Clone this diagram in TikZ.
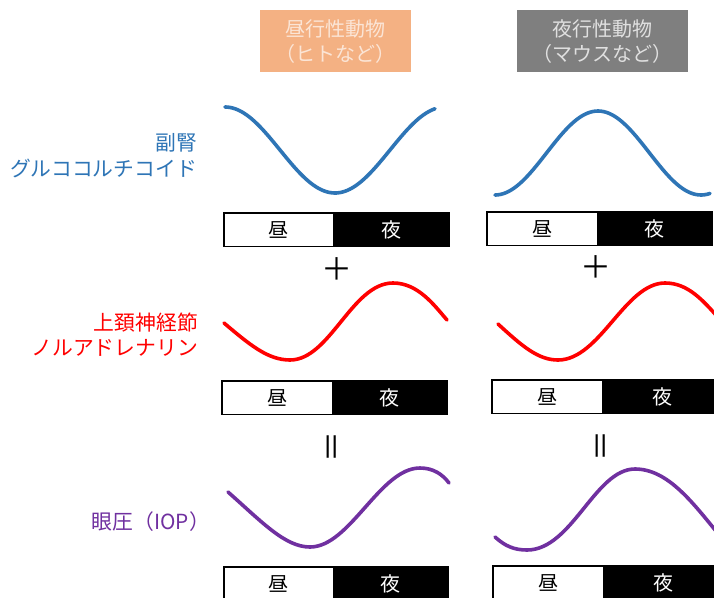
\documentclass[tikz,border=0pt]{standalone}
\usepackage{fontspec}
\newfontfamily\jp{Noto Sans CJK JP}
\definecolor{hdrday}{HTML}{F4B183}
\definecolor{hdrnight}{HTML}{7F7F7F}
\definecolor{hdrdaytxt}{HTML}{FBE5D6}
\definecolor{hdrnighttxt}{HTML}{E0E0E0}
\definecolor{cblue}{HTML}{2E75B6}
\definecolor{cred}{HTML}{FF0000}
\definecolor{cpurple}{HTML}{7030A0}
\tikzset{
  jptext/.style={font=\jp\fontsize{20}{24}\selectfont, inner sep=0pt},
  hdrbox/.style={jptext, minimum width=151pt, minimum height=62pt, align=center, text depth=0pt},
  daycell/.style={jptext, fill=white, text=black, minimum height=33pt, anchor=north west},
  nightcell/.style={jptext, fill=black, text=white, minimum height=33pt, anchor=north west},
  barline/.style={draw=black, line width=1.6pt},
  lbl/.style={font=\jp\fontsize{20.8}{24}\selectfont, inner sep=0pt, anchor=east},
  wave/.style={line width=3.6pt, line cap=round},
  opsym/.style={font=\jp\fontsize{31}{31}\selectfont, inner sep=0pt},
}
\begin{document}
\begin{tikzpicture}[x=1pt, y=-1pt]
\useasboundingbox (0,0) rectangle (714,597);
\clip (0,0) rectangle (714,597);
\fill[white] (0,0) rectangle (714,597);

% headers
\node[hdrbox, fill=hdrday, text=hdrdaytxt, minimum width=151pt] (hday) at (335.5,41) {昼行性動物\\[1pt]（ヒトなど）};
\node[hdrbox, fill=hdrnight, text=hdrnighttxt, minimum width=171pt] (hnight) at (602.5,41) {夜行性動物\\[1pt]（マウスなど）};

% left labels
\node[lbl, text=cblue] (l1a) at (197,143) {副腎};
\node[lbl, text=cblue] (l1b) at (197,168) {グルココルチコイド};
\node[lbl, text=cred] (l2a) at (198,323) {上頚神経節};
\node[lbl, text=cred] (l2b) at (198,348) {ノルアドレナリン};
\node[lbl, text=cpurple] (l3) at (210,522) {眼圧（IOP）};

% ---- row 1: glucocorticoid
\draw[wave, cblue] plot[domain=225:435, samples=80, smooth] (\x, {150-43*cos(1.63636*(\x-225))});
\draw[wave, cblue] plot[domain=495:710, samples=80, smooth] (\x, {153+42*cos(1.74757*(\x-495))});

\node[daycell, minimum width=109pt] (d1L) at (224,213) {昼};
\node[nightcell, minimum width=116pt] (n1L) at (333,213) {夜};
\draw[barline] (d1L.north west) rectangle (n1L.south east);
\node[daycell, minimum width=110pt] (d1R) at (487,212) {昼};
\node[nightcell, minimum width=115pt] (n1R) at (597,212) {夜};
\draw[barline] (d1R.north west) rectangle (n1R.south east);

\node[opsym] (p1L) at (337,269) {＋};
\node[opsym] (p1R) at (596,267) {＋};

% ---- row 2: noradrenaline
\draw[wave, cred] (224,323) .. controls (250,345) and (268,360) .. (290,360)
  .. controls (330,360) and (352,283) .. (393,283)
  .. controls (418,283) and (434,305) .. (447,320);
\draw[wave, cred] (498,324) .. controls (522,346) and (538,360) .. (558,360)
  .. controls (600,360) and (625,283) .. (665,283)
  .. controls (688,283) and (703,300) .. (722,322);

\node[daycell, minimum width=110pt] (d2L) at (222,381) {昼};
\node[nightcell, minimum width=115pt] (n2L) at (332,381) {夜};
\draw[barline] (d2L.north west) rectangle (n2L.south east);
\node[daycell, minimum width=110pt] (d2R) at (492,380) {昼};
\node[nightcell, minimum width=120pt] (n2R) at (602,380) {夜};
\draw[barline] (d2R.north west) rectangle (n2R.south east);

\node[opsym, rotate=90] (e2L) at (335,447) {＝};
\node[opsym, rotate=90] (e2R) at (604,446) {＝};

% ---- row 3: IOP
\draw[wave, cpurple] (228,492) .. controls (262,522) and (285,547) .. (310,547)
  .. controls (350,547) and (380,468) .. (420,468)
  .. controls (434,468) and (443,475) .. (449,483);
\draw[wave, cpurple] (495,537) .. controls (505,546) and (514,550) .. (527,550)
  .. controls (572,550) and (595,469) .. (635,469)
  .. controls (668,469) and (693,503) .. (720,536);

\node[daycell, minimum width=109pt] (d3L) at (224,567) {昼};
\node[nightcell, minimum width=115pt] (n3L) at (333,567) {夜};
\draw[barline] (d3L.north west) rectangle (n3L.south east);
\node[daycell, minimum width=110pt] (d3R) at (493,566) {昼};
\node[nightcell, minimum width=120pt] (n3R) at (603,566) {夜};
\draw[barline] (d3R.north west) rectangle (n3R.south east);
\end{tikzpicture}
\end{document}
